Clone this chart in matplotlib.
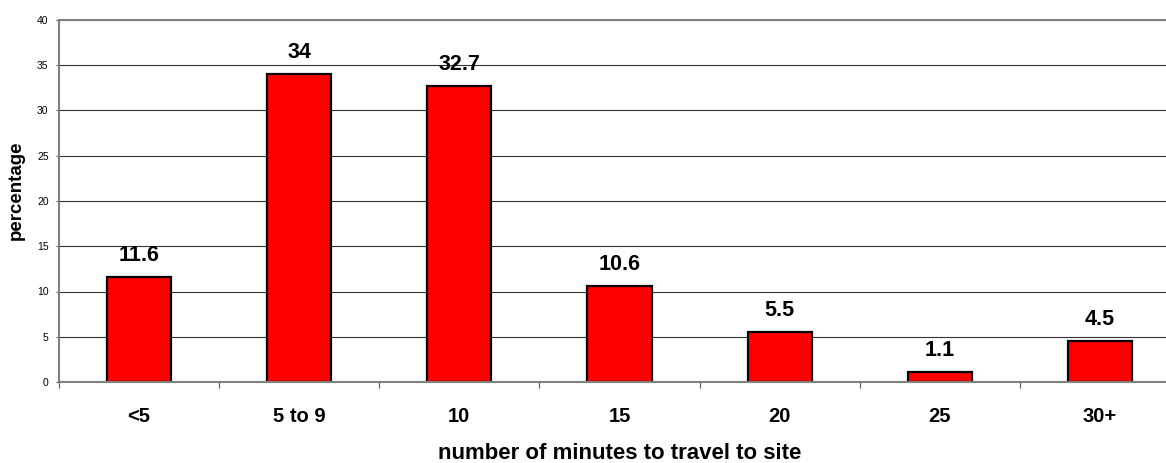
import numpy as np
import matplotlib
matplotlib.use("Agg")
import matplotlib.pyplot as plt

plt.rcParams['font.family'] = ['Liberation Sans', 'DejaVu Sans']

# travel time categories and share of respondents
categories = ['<5', '5 to 9', '10', '15', '20', '25', '30+']
percentages = [11.6, 34, 32.7, 10.6, 5.5, 1.1, 4.5]
value_labels = ['11.6', '34', '32.7', '10.6', '5.5', '1.1', '4.5']
y_ticks = [0, 5, 10, 15, 20, 25, 30, 35, 40]

x = np.arange(len(categories))

fig = plt.figure(figsize=(11.66, 4.63), dpi=100)
# plot area runs past the right edge of the picture, as in the original
ax = fig.add_axes([59 / 1166, 1 - 382 / 463, 1121 / 1166, 362 / 463])

ax.set_axisbelow(True)
ax.yaxis.grid(True, color='#333333', linewidth=0.8)
ax.bar(x, percentages, width=0.4, color='#ff0000', edgecolor='black', linewidth=1.6)

for xi, val, lab in zip(x, percentages, value_labels):
    ax.annotate(lab, (xi, val), xytext=(0, 11.5), textcoords='offset points',
                ha='center', va='baseline', fontsize=15.5, fontweight='bold')

ax.set_xlim(-0.5, len(categories) - 0.5)
ax.set_ylim(0, 40)
ax.set_yticks(y_ticks)
ax.tick_params(axis='y', direction='out', length=2.5, width=0.8, color='#555555',
               labelsize=7.5, pad=5)

# tick marks between categories, labels in the middle
ax.set_xticks(np.arange(-0.5, len(categories)), labels=[''] * (len(categories) + 1))
ax.set_xticks(x, labels=categories, minor=True)
ax.tick_params(axis='x', which='major', direction='out', length=4, width=0.8, color='#555555')
ax.tick_params(axis='x', which='minor', length=0, pad=18, labelsize=14.5)
for t in ax.get_xticklabels(minor=True):
    t.set_fontweight('bold')

for s in ax.spines.values():
    s.set_color('#808080')
    s.set_linewidth(1.5)

ax.set_xlabel('number of minutes to travel to site', fontsize=16, fontweight='bold')
ax.xaxis.set_label_coords(0.5, -(459 - 382) / 362)
ax.xaxis.label.set_va('baseline')
ax.set_ylabel('percentage', fontsize=13.5, fontweight='bold')
ax.yaxis.set_label_coords(-(59 - 25) / 1121, 0.53)

fig.savefig('out.png', dpi=100)
